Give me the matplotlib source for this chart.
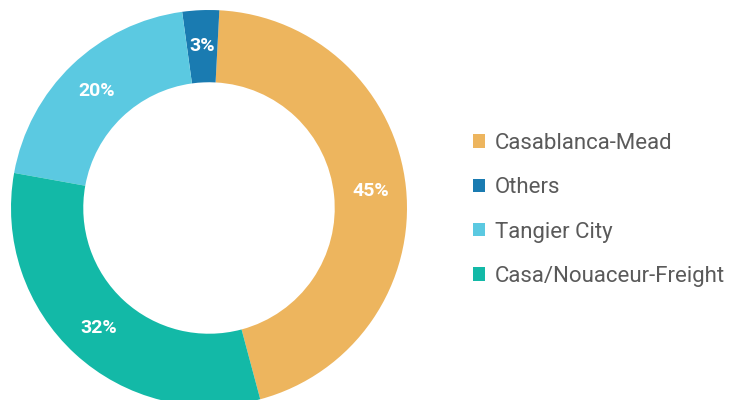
import matplotlib.pyplot as plt
from matplotlib.patches import Patch

# airport cargo share
airports = ["Casablanca-Mead", "Others", "Tangier City", "Casa/Nouaceur-Freight"]
shares = [45, 3, 20, 32]
colors = ["#EDB55E", "#1A7BB1", "#5BC9E1", "#13B9A7"]

plt.rcParams["font.family"] = ["Roboto", "DejaVu Sans"]

fig = plt.figure(figsize=(7.44, 4.0), dpi=100)
ax = fig.add_axes([11 / 744, -6 / 400, 396 / 744, 396 / 400])

wedges, texts, autotexts = ax.pie(
    shares, colors=colors, startangle=-75, counterclock=True,
    radius=1.0, wedgeprops=dict(width=0.365, linewidth=0),
    autopct="%d%%", pctdistance=0.82,
    textprops=dict(color="white", fontsize=14, fontweight="bold"))
ax.set_xlim(-1, 1)
ax.set_ylim(-1, 1)
ax.set_aspect("equal")

handles = [Patch(facecolor=c, edgecolor="none") for c in colors]
fig.legend(handles, airports, loc="upper left", bbox_to_anchor=(453 / 744, 1 - 113 / 400),
           frameon=False, handlelength=0.55, handleheight=0.55, handletextpad=0.45,
           labelspacing=1.05, fontsize=16, labelcolor="#5a5a5a")

fig.savefig("out.png", dpi=100)
